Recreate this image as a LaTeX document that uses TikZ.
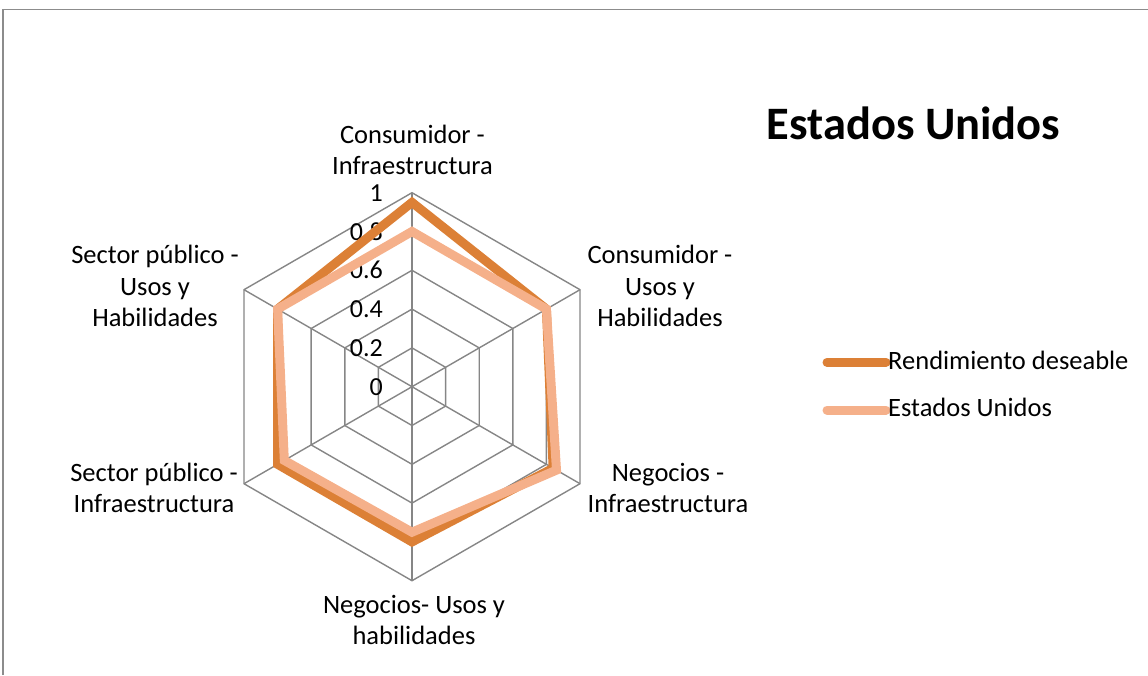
\documentclass[tikz,border=0pt]{standalone}
\usepackage{fontspec}
\setmainfont{Carlito}
\definecolor{gridgray}{RGB}{134,134,134}
\definecolor{framegray}{RGB}{140,140,140}
\definecolor{darkor}{RGB}{220,128,54}
\definecolor{lightor}{RGB}{245,176,138}
\begin{document}
\begin{tikzpicture}[x=1pt,y=-1pt,
  lbl/.style={font=\fontsize{26.5}{31}\selectfont, inner sep=0pt, anchor=base},
  tick/.style={font=\fontsize{26}{30}\selectfont, inner sep=0pt, anchor=base east},
  leg/.style={font=\fontsize{26.5}{31}\selectfont, inner sep=0pt, anchor=base west},
  gridline/.style={draw=gridgray, line width=1.4pt},
  serA/.style={draw=darkor, line width=9pt, line join=miter},
  serB/.style={draw=lightor, line width=9pt, line join=miter}]
\useasboundingbox (0,0) rectangle (1148,675);
\coordinate (f1) at (3,675);
\coordinate (f2) at (3,9.5);
\coordinate (f3) at (1148,9.5);
\draw[draw=framegray, line width=1.5pt] (f1) -- (f2) -- (f3);

\begin{scope}[shift={(412,386.7)}, y=1pt]
  \coordinate (c) at (0,0);
  % rings
  \foreach \r in {38.8,77.6,116.4,155.2,194} {
    \draw[gridline] (90:\r) -- (30:\r) -- (-30:\r) -- (-90:\r) -- (-150:\r) -- (150:\r) -- cycle;
  }
  % spokes
  \coordinate (ax1) at (90:194);
  \coordinate (ax2) at (30:194);
  \coordinate (ax3) at (-30:194);
  \coordinate (ax4) at (-90:194);
  \coordinate (ax5) at (-150:194);
  \coordinate (ax6) at (150:194);
  \foreach \n in {1,...,6} { \draw[gridline] (c) -- (ax\n); }
  % tick labels
  \node[tick] (t0) at (-29,-8.5) {0};
  \node[tick] (t2) at (-29,{38.8-8.5}) {0.2};
  \node[tick] (t4) at (-29,{77.6-8.5}) {0.4};
  \node[tick] (t6) at (-29,{116.4-8.5}) {0.6};
  \node[tick] (t8) at (-29,{155.2-8.5}) {0.8};
  \node[tick] (t10) at (-29,{194-8.5}) {1};
  % series: Rendimiento deseable
  \coordinate (a1) at (90:{0.95*194});
  \coordinate (a2) at (30:{0.8*194});
  \coordinate (a3) at (-30:{0.84*194});
  \coordinate (a4) at (-90:{0.8*194});
  \coordinate (a5) at (-150:{0.8*194});
  \coordinate (a6) at (150:{0.8*194});
  % series: Estados Unidos
  \coordinate (b1) at (90:{0.8*194});
  \coordinate (b2) at (30:{0.8*194});
  \coordinate (b3) at (-30:{0.86*194});
  \coordinate (b4) at (-90:{0.75*194});
  \coordinate (b5) at (-150:{0.76*194});
  \coordinate (b6) at (150:{0.8*194});
  \draw[serA] (a1) -- (a2) -- (a3) -- (a4) -- (a5) -- (a6) -- cycle;
  \draw[serB] (b1) -- (b2) -- (b3) -- (b4) -- (b5) -- (b6) -- cycle;
\end{scope}

% axis labels
\node[lbl] (l1a) at (412.5,143) {Consumidor -};
\node[lbl] (l1b) at (412.5,174) {Infraestructura};
\node[lbl] (l2a) at (660,263.5) {Consumidor -};
\node[lbl] (l2b) at (660,295) {Usos y};
\node[lbl] (l2c) at (660,326) {Habilidades};
\node[lbl] (l3a) at (668,481.7) {Negocios -};
\node[lbl] (l3b) at (668,512) {Infraestructura};
\node[lbl] (l4a) at (414,613) {Negocios- Usos y};
\node[lbl] (l4b) at (414,644) {habilidades};
\node[lbl] (l5a) at (154,481.7) {Sector público -};
\node[lbl] (l5b) at (154,512) {Infraestructura};
\node[lbl] (l6a) at (155,263.5) {Sector público -};
\node[lbl] (l6b) at (155,295) {Usos y};
\node[lbl] (l6c) at (155,326) {Habilidades};

% title
\node[font=\bfseries\fontsize{46.5}{55}\selectfont, inner sep=0pt, anchor=base] (title) at (913.5,139.3) {Estados Unidos};

% legend
\coordinate (k1a) at (827,362.3);
\coordinate (k1b) at (886,362.3);
\coordinate (k2a) at (827,410);
\coordinate (k2b) at (886,410);
\draw[serA, line cap=round] (k1a) -- (k1b);
\draw[serB, line cap=round] (k2a) -- (k2b);
\node[leg] (leg1) at (888,369.3) {Rendimiento deseable};
\node[leg] (leg2) at (888,416.5) {Estados Unidos};
\end{tikzpicture}
\end{document}
